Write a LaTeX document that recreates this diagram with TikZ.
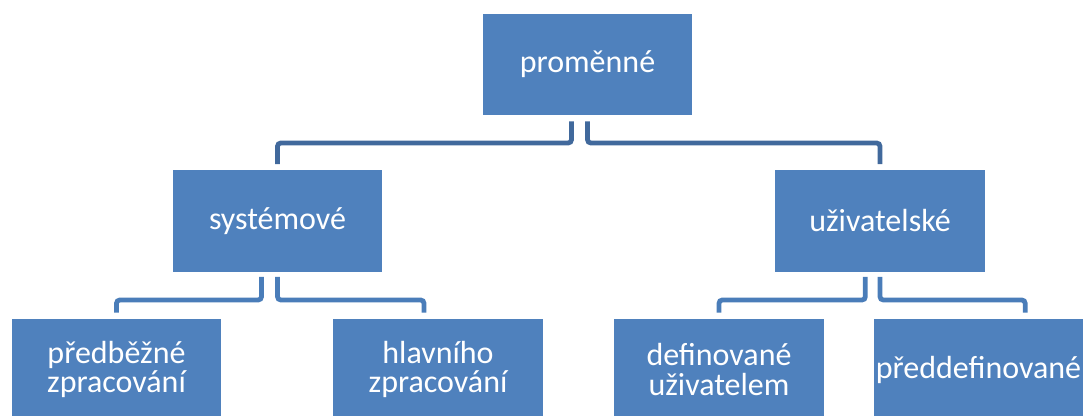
\documentclass[tikz,border=0pt]{standalone}
\usepackage{fontspec}
\setmainfont{Carlito}

\definecolor{boxblue}{HTML}{4F81BD}
\definecolor{linkdark}{HTML}{41699C}
\definecolor{linkblue}{HTML}{4A7DB9}

\begin{document}
\begin{tikzpicture}[x=0.75pt, y=-0.75pt,
  box/.style={rectangle, fill=boxblue, text=white, minimum width=157pt,
    minimum height=76pt, inner sep=0pt, align=center,
    font=\fontsize{24}{22}\selectfont},
  link/.style={line width=3.6pt, rounded corners=2.5pt},
]

% Frame
\useasboundingbox (0,0) rectangle (1085,416);

% Top level
\node[box] (var) at (587.5,64.5) {proměnné};

% Second level
\node[box] (sys) at (277.5,221) {systémové};
\node[box] (usr) at (880,221) {uživatelské};

% Third level
\node[box] (pre) at (116.5,369.5) {předběžné\\zpracování};
\node[box] (main) at (438,369.5) {hlavního\\zpracování};
\node[box] (def) at (719,369.5) {definované\\uživatelem};
\node[box] (pdef) at (978.5,369.5) {předdefinované};

% Bus heights
\coordinate (busA) at (0,143);
\coordinate (busB) at (0,300);

% Links from the top
\draw[link, linkdark] ([xshift=-12pt,yshift=-4.5pt]var.south) |- (busA -| sys.north)
  -- ([yshift=4.5pt]sys.north);
\draw[link, linkdark] ([yshift=-4.5pt]var.south) |- (busA -| usr.north)
  -- ([yshift=4.5pt]usr.north);

% Links from systemove
\draw[link, linkblue] ([xshift=-12pt,yshift=-3.75pt]sys.south) |- (busB -| pre.north)
  -- ([yshift=4.5pt]pre.north);
\draw[link, linkblue] ([yshift=-3.75pt]sys.south) |- ([xshift=-10.5pt]busB -| main.north)
  -- ([xshift=-10.5pt,yshift=4.5pt]main.north);

% Links from uzivatelske
\draw[link, linkblue] ([xshift=-11pt,yshift=-3.75pt]usr.south) |- (busB -| def.north)
  -- ([yshift=4.5pt]def.north);
\draw[link, linkblue] ([yshift=-3.75pt]usr.south) |- ([xshift=35pt]busB -| pdef.north)
  -- ([xshift=35pt,yshift=4.5pt]pdef.north);

\end{tikzpicture}
\end{document}
